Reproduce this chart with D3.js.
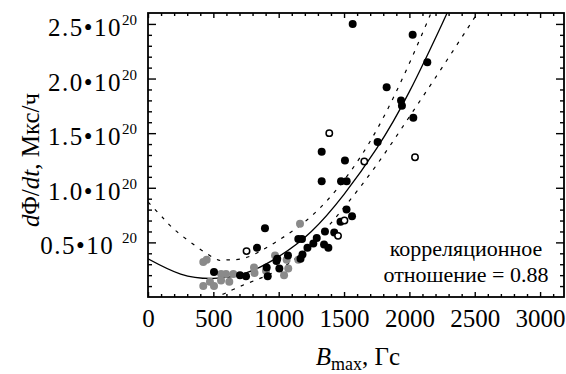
<!DOCTYPE html>
<html>
<head>
<meta charset="utf-8">
<script src="https://cdn.jsdelivr.net/npm/d3@7"></script>
</head>
<body style="margin:0">
<svg id="chart" width="566" height="374" font-family="serif"></svg>
<script>
// values, rate in units of 10^20 Mx/h

// filled black points
var blackB = [1566, 2025, 2137, 1826, 1936, 1943, 2030, 1757, 1329, 1507, 1329, 1477, 1520,
    1519, 1561, 1473, 1425, 1354, 1347, 1380, 1291, 1265, 1220, 1182, 1167, 1150, 1178,
    1071, 1005, 989, 983, 895, 908, 916, 834, 750, 704, 505];
var blackRate = [2.50, 2.40, 2.15, 1.92, 1.80, 1.75, 1.64, 1.42, 1.33, 1.25, 1.06, 1.06, 1.06,
    0.80, 0.74, 0.69, 0.59, 0.60, 0.48, 0.45, 0.54, 0.49, 0.45, 0.39, 0.35, 0.53, 0.53,
    0.38, 0.26, 0.35, 0.33, 0.63, 0.27, 0.19, 0.45, 0.19, 0.20, 0.23];

// grey points
var greyB = [1163, 1150, 1073, 1041, 972, 903, 811, 815, 653, 597, 559, 559, 622, 423, 474, 505, 423, 449, 1061];
var greyRate = [0.67, 0.34, 0.26, 0.20, 0.38, 0.24, 0.27, 0.22, 0.21, 0.21, 0.21, 0.15, 0.14, 0.10, 0.14, 0.10, 0.32, 0.34, 0.34];

// open points
var openB = [1387, 1655, 2043, 1503, 1454, 754];
var openRate = [1.50, 1.24, 1.28, 0.70, 0.56, 0.42];

// fitted curve and its two dashed bounds
var fitB = [0, 250, 500, 750, 1000, 1250, 1500, 1750, 2000, 2250, 2300];
var fitRate = [0.35, 0.21, 0.17, 0.22, 0.37, 0.60, 0.94, 1.36, 1.88, 2.50, 2.63];
var upperB = [0, 125, 250, 500, 600, 750, 1000, 1250, 1500, 1750, 2000, 2200, 2250];
var upperRate = [0.87, 0.71, 0.57, 0.36, 0.34, 0.36, 0.52, 0.74, 1.07, 1.53, 2.14, 2.70, 2.85];
var lowerB = [500, 600, 750, 1000, 1250, 1500, 1750, 2000, 2250, 2500, 2560];
var lowerRate = [-0.01, 0.04, 0.12, 0.25, 0.48, 0.82, 1.21, 1.65, 2.10, 2.56, 2.67];

// ticks
var xTicks = [0, 500, 1000, 1500, 2000, 2500, 3000];
var yTicks = [0.5, 1.0, 1.5, 2.0, 2.5];
var yTickLabels = ["0.5\u202210\u00a0", "1.0\u202210", "1.5\u202210", "2.0\u202210", "2.5\u202210"];
var yExponent = "20";

var serif = "serif";

// drawing area
var chartWidth = 566,
    chartHeight = 374;
var margin = { top: 13, right: 2, bottom: 77, left: 148 };
var width = chartWidth - margin.left - margin.right,
    height = chartHeight - margin.top - margin.bottom;

var svg = d3.select("#chart")
    .append("g")
    .attr("transform", "translate(" + margin.left + "," + margin.top + ")");

// scales
var x = d3.scaleLinear().domain([0, 3183]).range([0, width]);
var y = d3.scaleLinear().domain([0, 2.6]).range([height, 0]);

svg.append("clipPath").attr("id", "plot-clip")
    .append("rect").attr("width", width).attr("height", height);

// minor tick positions
var xMinor = d3.range(0, 3200, 100).filter(d => d % 500 !== 0);
var yMinor = d3.range(1, 26).map(d => d / 10).filter(d => d * 10 % 5 !== 0);

function drawAxis(axis, tx, ty) {
    var g = svg.append("g")
        .attr("transform", "translate(" + tx + "," + ty + ")")
        .call(axis)
        .attr("font-family", serif);
    g.select(".domain").remove();
    g.selectAll("line").attr("stroke", "#000").attr("stroke-width", 1.4);
    return g;
}

// bottom axis with labels
var xAxisGroup = drawAxis(d3.axisBottom(x).tickValues(xTicks).tickSizeInner(-5).tickSizeOuter(0)
    .tickPadding(12).tickFormat(d => d), 0, height);
xAxisGroup.attr("font-size", 25);
xAxisGroup.selectAll("text").attr("font-family", serif);
drawAxis(d3.axisBottom(x).tickValues(xMinor).tickSize(-3).tickFormat(""), 0, height);

// top axis
drawAxis(d3.axisTop(x).tickValues(xTicks).tickSize(-5).tickFormat(""), 0, 0);
drawAxis(d3.axisTop(x).tickValues(xMinor).tickSize(-3).tickFormat(""), 0, 0);

// left and right axes
drawAxis(d3.axisLeft(y).tickValues(yTicks).tickSize(-8).tickFormat(""), 0, 0);
drawAxis(d3.axisLeft(y).tickValues(yMinor).tickSize(-4).tickFormat(""), 0, 0);
drawAxis(d3.axisRight(y).tickValues(yTicks).tickSize(-8).tickFormat(""), width, 0);
drawAxis(d3.axisRight(y).tickValues(yMinor).tickSize(-4).tickFormat(""), width, 0);

// y tick labels with exponent
var yLabel = svg.selectAll(".y-label")
    .data(yTicks)
    .enter()
    .append("text")
    .attr("class", "y-label")
    .attr("x", -11)
    .attr("y", d => y(d) + 12)
    .attr("text-anchor", "end")
    .attr("font-family", serif)
    .attr("font-size", 25);
yLabel.append("tspan")
    .attr("letter-spacing", 1.5)
    .text((d, i) => yTickLabels[i]);
yLabel.append("tspan")
    .attr("dy", -11)
    .attr("font-size", 15)
    .text(yExponent);

// lines
var line = d3.line()
    .curve(d3.curveNatural)
    .x(d => x(d[0]))
    .y(d => y(d[1]));

var lines = svg.append("g").attr("clip-path", "url(#plot-clip)");

lines.append("path")
    .datum(fitB.map((b, i) => [b, fitRate[i]]))
    .attr("fill", "none")
    .attr("stroke", "#000")
    .attr("stroke-width", 1.3)
    .attr("d", line);

[[upperB, upperRate], [lowerB, lowerRate]].forEach(function(c) {
    lines.append("path")
        .datum(c[0].map((b, i) => [b, c[1][i]]))
        .attr("fill", "none")
        .attr("stroke", "#000")
        .attr("stroke-width", 1.2)
        .attr("stroke-dasharray", "3.5,6.5")
        .attr("d", line);
});

// points
function drawPoints(bs, rates, fill, stroke, r) {
    svg.append("g").selectAll("circle")
        .data(bs.map((b, i) => [b, rates[i]]))
        .enter()
        .append("circle")
        .attr("cx", d => x(d[0]))
        .attr("cy", d => y(d[1]))
        .attr("r", r)
        .attr("fill", fill)
        .attr("stroke", stroke)
        .attr("stroke-width", stroke === "none" ? 0 : 1.5);
}
drawPoints(greyB, greyRate, "#8a8a8a", "none", 4);
drawPoints(blackB, blackRate, "#000", "none", 4);
drawPoints(openB, openRate, "#fff", "#000", 3.2);

// frame
svg.append("rect")
    .attr("width", width)
    .attr("height", height)
    .attr("fill", "none")
    .attr("stroke", "#000")
    .attr("stroke-width", 1.8);

// annotation
var note = svg.append("text")
    .attr("text-anchor", "middle")
    .attr("font-family", serif)
    .attr("font-size", 22);
note.append("tspan").attr("x", 318).attr("y", 243).text("корреляционное");
note.append("tspan").attr("x", 318).attr("y", 269).text("отношение = 0.88");

// axis titles
var xTitle = svg.append("text")
    .attr("x", 210)
    .attr("y", 352)
    .attr("text-anchor", "middle")
    .attr("font-family", serif)
    .attr("font-size", 25);
xTitle.append("tspan").attr("font-style", "italic").text("B");
xTitle.append("tspan").attr("dy", 5).attr("font-size", 18).text("max");
xTitle.append("tspan").attr("dy", -5).text(", Гс");

var yTitle = svg.append("text")
    .attr("transform", "translate(" + (39 - margin.left) + "," + (160 - margin.top) + ") rotate(-90)")
    .attr("text-anchor", "middle")
    .attr("font-family", serif)
    .attr("font-size", 25);
yTitle.append("tspan").attr("font-style", "italic").text("d");
yTitle.append("tspan").text("Φ/");
yTitle.append("tspan").attr("font-style", "italic").text("dt");
yTitle.append("tspan").text(", Мкс/ч");
</script>
</body>
</html>
